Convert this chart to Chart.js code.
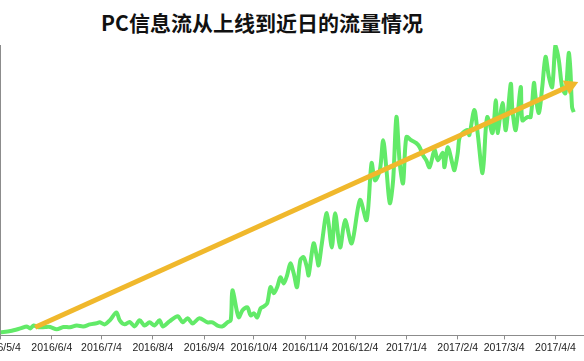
<!DOCTYPE html>
<html>
<head>
<meta charset="utf-8">
<script src="https://cdn.jsdelivr.net/npm/chart.js@4.4.0/dist/chart.umd.min.js"></script>
<style>
  html, body { margin: 0; padding: 0; background: #fff; }
  body { width: 584px; height: 361px; position: relative; overflow: hidden; }
  #title {
    position: absolute; left: 0; top: 9px; width: 524px; text-align: center;
    font: bold 21px "Noto Sans CJK SC", "Noto Sans", sans-serif; color: #111; line-height: 26px;
  }
  #box { position: absolute; left: -22px; top: 0; width: 614px; height: 361px; }
</style>
</head>
<body>
<div id="title">PC信息流从上线到近日的流量情况</div>
<div id="box"><canvas id="flowChart" width="614" height="361"></canvas></div>
<script>
// x 轴刻度：距 2016/5/4 的天数
const tickDays = [0, 31, 61, 92, 123, 153, 184, 214, 245, 276, 304, 335];
const tickLabels = ['2016/5/4', '2016/6/4', '2016/7/4', '2016/8/4', '2016/9/4', '2016/10/4',
  '2016/11/4', '2016/12/4', '2017/1/4', '2017/2/4', '2017/3/4', '2017/4/4'];

// 流量（相对值），days = 距 2016/5/4 的天数
const days = [0, 6, 12, 16, 18, 20, 23, 27, 30, 34, 38, 42, 46, 50, 54, 58, 60, 63, 66, 70,
  72, 75, 78, 81, 84, 87, 90, 93, 96, 98, 102, 107, 110, 113, 116, 120, 125, 128, 131, 134,
  137, 139, 140, 143, 144, 146, 149, 151, 153, 155, 157, 159, 161, 163, 165, 167, 169, 171, 173, 175,
  177, 179, 181, 183, 185, 186, 189, 191, 192, 194, 197, 200, 202, 205, 208, 212, 217, 221, 224, 226,
  229, 231, 233, 235, 237, 239, 241, 243, 245, 248, 251, 253, 255, 257, 259, 262, 264, 267, 268, 270,
  273, 274, 276, 277, 279, 282, 283, 286, 288, 291, 293, 294, 297, 299, 300, 303, 305, 308, 309, 311,
  314, 315, 318, 320, 322, 323, 325, 327, 329, 331, 333, 335, 337, 339, 341, 343, 344, 345, 346];
const traffic = [1.1, 1.5, 2.4, 3.1, 2.4, 3.4, 2.8, 2.9, 2.9, 2.1, 2.9, 2.8, 3.4, 3.1, 3.8, 4.2, 4.5, 3.8, 5.2, 7.9,
  5.2, 3.8, 4.6, 3.1, 5.2, 3.4, 4.5, 3.4, 5.2, 3.1, 4.8, 6.6, 4.5, 5.9, 4.1, 5.9, 4.5, 4.5, 3.4, 3.1,
  4.5, 5.2, 15.5, 7.6, 6.2, 8.6, 9.7, 6.9, 7.6, 6.2, 9.3, 10.0, 11.0, 16.6, 14.5, 16.6, 20.0, 17.9, 20.7, 24.8,
  21.4, 16.6, 25.9, 26.9, 23.4, 20.7, 31.7, 26.9, 24.1, 31.7, 42.1, 30.3, 42.1, 30.3, 39.7, 31.7, 46.6, 39.7, 59.3, 53.4,
  56.9, 67.2, 56.9, 45.5, 53.4, 75.2, 59.3, 52.4, 68.3, 67.2, 66.2, 64.8, 62.1, 60.3, 57.9, 63.8, 60.3, 62.8, 57.9, 64.8,
  58.6, 56.9, 62.8, 67.9, 69.7, 70.7, 69.0, 77.6, 69.7, 55.9, 71.7, 75.2, 69.7, 81.0, 69.7, 80.0, 70.7, 86.6, 77.6, 70.7,
  85.5, 74.1, 75.2, 75.2, 86.9, 82.1, 76.6, 85.5, 95.9, 89.0, 85.5, 100, 94.8, 85.5, 83.4, 97.2, 91.4, 78.6, 76.9];

// 趋势箭头
const trendDays = [21, 343.8];
const trendValues = [2.8, 86.0];

const flowPoints = days.map((d, i) => ({ x: d, y: traffic[i] }));
const trendPoints = trendDays.map((d, i) => ({ x: d, y: trendValues[i] }));

const ctx = document.getElementById('flowChart');

new Chart(ctx, {
  type: 'line',
  data: {
    datasets: [{
      label: '趋势',
      data: trendPoints,
      borderColor: '#f0b82c',
      backgroundColor: '#f0b82c',
      borderWidth: 5,
      pointRadius: [0, 9],
      pointStyle: 'triangle',
      pointRotation: [0, 65.7],
      pointBorderWidth: 0,
      order: 0
    }, {
      label: '流量',
      data: flowPoints,
      borderColor: '#62ea68',
      borderWidth: 4,
      pointRadius: 0,
      tension: 0.3,
      fill: false,
      order: 1
    }]
  },
  options: {
    responsive: false,
    animation: false,
    layout: { padding: { top: 45, right: 0, bottom: 5, left: 0 } },
    plugins: {
      legend: { display: false },
      tooltip: { enabled: false }
    },
    scales: {
      x: {
        type: 'linear',
        min: 0,
        max: 351.6,
        afterBuildTicks: (scale) => {
          scale.ticks = tickDays.map(v => ({ value: v }));
        },
        ticks: {
          autoSkip: false,
          maxRotation: 0,
          color: '#222',
          font: { family: 'Liberation Sans', size: 10.5 },
          padding: 2,
          callback: (value) => tickLabels[tickDays.indexOf(value)]
        },
        grid: {
          drawOnChartArea: false,
          drawTicks: true,
          tickLength: 4,
          color: '#8c8c8c'
        },
        border: { color: '#8c8c8c', width: 1 }
      },
      y: {
        min: 0,
        max: 100,
        ticks: { display: false },
        grid: { display: false, drawTicks: false },
        border: { color: '#8c8c8c', width: 1 }
      }
    }
  }
});
</script>
</body>
</html>
